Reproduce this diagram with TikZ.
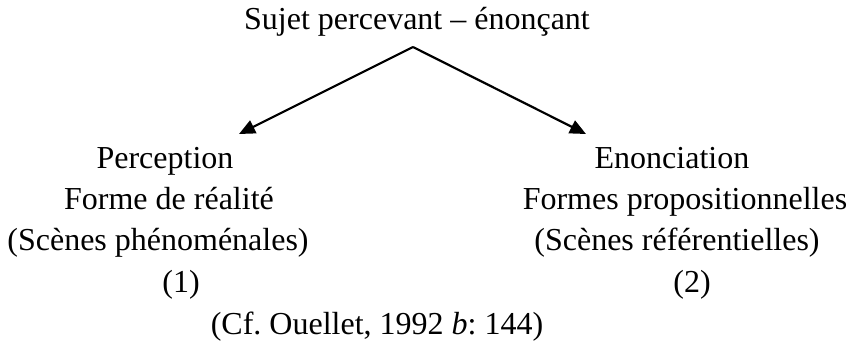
\documentclass[tikz,border=0pt]{standalone}
\usepackage{fontspec}
\setmainfont{Liberation Serif}
\usepackage{tikz}
\usetikzlibrary{arrows.meta}
\usetikzlibrary{positioning}
\frenchspacing
\tikzset{
     frameless/.style={
           %rectangle,
           %draw=black,
           inner sep=0pt,
           anchor=base,
           text centered,
           },
     pfeil/.style={
           -{Triangle[length=16pt,width=14pt]},
           line width=2.2pt,
           },
}
\begin{document}
\begin{tikzpicture}[x=1pt, y=-1pt, font=\fontsize{32}{40}\selectfont]
	\useasboundingbox (0,0) rectangle (855,345);

	\node[frameless] (sujet) at (417,30) {Sujet percevant – énonçant};

	% colonne gauche
	\node[frameless] (perc) at (165,168) {Perception};
	\node[frameless] (forme) at (169,209) {Forme de réalité};
	\node[frameless] (scenes1) at (158,250) {(Scènes phénoménales)};
	\node[frameless] (un) at (181,292) {(1)};

	% colonne droite
	\node[frameless] (enon) at (672,168) {Enonciation};
	\node[frameless] (formes) at (685,209) {Formes propositionnelles};
	\node[frameless] (scenes2) at (677,250) {(Scènes référentielles)};
	\node[frameless] (deux) at (692,292) {(2)};

	\node[frameless] (cf) at (377,334) {(Cf. Ouellet, 1992 \textit{b}: 144)};

	\coordinate (apex) at (413,47);
	\coordinate (tipL) at (239,134);
	\coordinate (tipR) at (586,134);

	\draw[pfeil] (apex) -- (tipL);
	\draw[pfeil] (apex) -- (tipR);

\end{tikzpicture}
\end{document}
